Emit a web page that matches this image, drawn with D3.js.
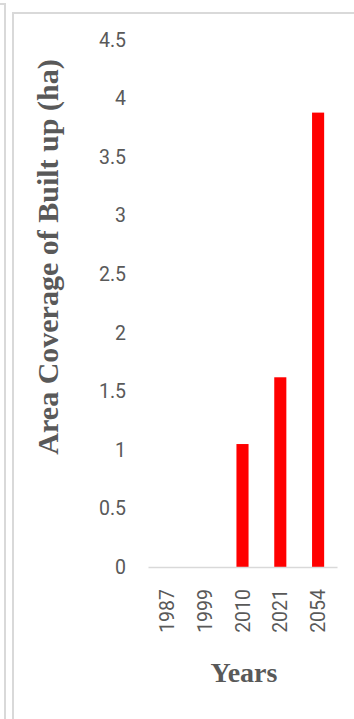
<!DOCTYPE html>
<html>
<head>
<meta charset="utf-8">
<script src="https://cdn.jsdelivr.net/npm/d3@7"></script>
<style>
  body { margin: 0; background: #fff; }
  svg { display: block; }
</style>
</head>
<body>
<div id="chart"></div>
<script>
// data
const years = ["1987", "1999", "2010", "2021", "2054"];
const builtUp = [0, 0, 1.05, 1.62, 3.88];
const yTicks = [0, 0.5, 1, 1.5, 2, 2.5, 3, 3.5, 4, 4.5];

const W = 354, H = 719;
const margin = { top: 40, right: 17, bottom: 152, left: 148 };
const width = W - margin.left - margin.right;
const height = H - margin.top - margin.bottom;

const svg = d3.select("#chart").append("svg")
	.attr("width", W)
	.attr("height", H);

// frames
svg.append("path")
	.attr("d", "M0,4 H5 V719")
	.attr("fill", "none")
	.attr("stroke", "#d9d9d9")
	.attr("stroke-width", 2);

svg.append("path")
	.attr("d", "M13,719 V13 H354")
	.attr("fill", "none")
	.attr("stroke", "#d9d9d9")
	.attr("stroke-width", 2);

const g = svg.append("g")
	.attr("transform", `translate(${margin.left}, ${margin.top})`);

const x = d3.scaleBand()
	.domain(years)
	.range([0, width])
	.paddingInner(0.68)
	.paddingOuter(0.34);

const y = d3.scaleLinear()
	.domain([0, 4.5])
	.range([height, 0]);

// y axis
const yAxis = g.append("g")
	.attr("transform", "translate(-22, 0)")
	.call(d3.axisLeft(y).tickValues(yTicks).tickSize(0).tickPadding(0).tickFormat(d3.format("")));
yAxis.select(".domain").remove();
yAxis.selectAll("text")
	.attr("fill", "#595959")
	.style("font-family", "Roboto, sans-serif")
	.style("font-size", "19.5px");

// bars
g.selectAll("rect.bar")
	.data(years.map((d, i) => ({ year: d, value: builtUp[i] })))
	.enter()
	.append("rect")
	.attr("class", "bar")
	.attr("x", d => x(d.year))
	.attr("y", d => y(d.value))
	.attr("width", x.bandwidth())
	.attr("height", d => height - y(d.value))
	.attr("fill", "#ff0000");

// x axis
const xAxis = g.append("g")
	.attr("transform", `translate(0, ${height})`)
	.call(d3.axisBottom(x).tickSize(0).tickPadding(0));
xAxis.select(".domain")
	.attr("stroke", "#d9d9d9")
	.attr("stroke-width", 1.5);
xAxis.selectAll("text")
	.attr("fill", "#595959")
	.attr("text-anchor", "end")
	.attr("transform", "translate(0, 22) rotate(-90)")
	.attr("x", 0)
	.attr("y", 0)
	.attr("dy", "0.36em")
	.style("font-family", "Roboto, sans-serif")
	.style("font-size", "19.5px");

// labels
svg.append("text")
	.attr("text-anchor", "middle")
	.attr("transform", "translate(58, 257) rotate(-90)")
	.attr("fill", "#595959")
	.style("font-family", "'Liberation Serif', 'Times New Roman', serif")
	.style("font-weight", "bold")
	.style("font-size", "30px")
	.text("Area Coverage of Built up (ha)");

svg.append("text")
	.attr("text-anchor", "middle")
	.attr("x", 244)
	.attr("y", 682)
	.attr("fill", "#595959")
	.style("font-family", "'Liberation Serif', 'Times New Roman', serif")
	.style("font-weight", "bold")
	.style("font-size", "28px")
	.text("Years");
</script>
</body>
</html>
